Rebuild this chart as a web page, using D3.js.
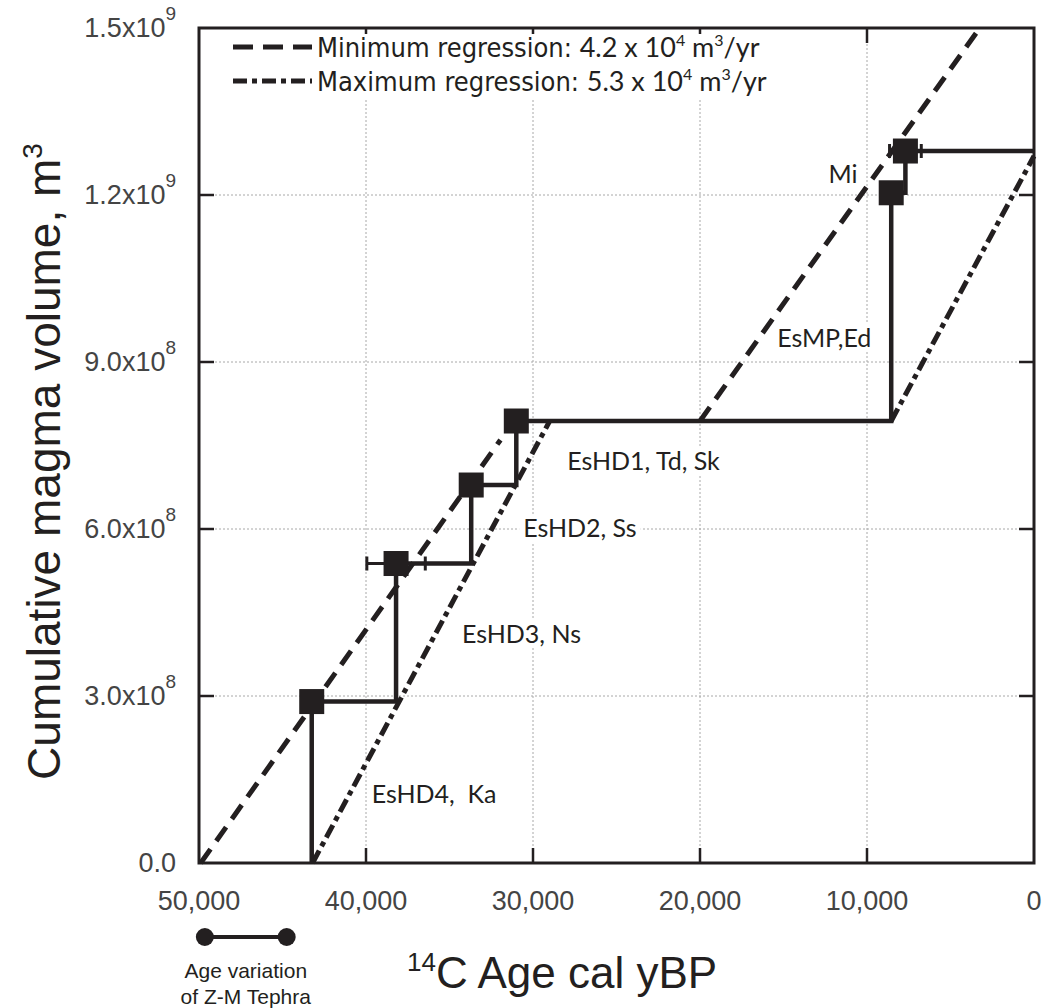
<!DOCTYPE html>
<html lang="en">
<head>
    <meta charset="utf-8">
    <title>Cumulative magma volume</title>
    <style>
        body {
            margin: 0;
            background: #fff;
        }
        svg {
            font-family: "Liberation Sans", Arial, sans-serif;
        }
        .tick-label {
            font-size: 27px;
            fill: #444;
        }
        .event-label {
            font-family: Lato, "Open Sans", sans-serif;
            font-size: 25px;
            fill: #231f20;
        }
        .legend-text {
            font-family: "Liberation Sans Narrow", "DejaVu Sans Condensed", sans-serif;
            font-size: 27px;
            fill: #231f20;
        }
    </style>
</head>
<body>

<svg width="1043" height="1008"></svg>

<script src="https://d3js.org/d3.v7.min.js"></script>
<script>

    // ---- data ----
    const eventNames = ["EsHD4,  Ka", "EsHD3, Ns", "EsHD2, Ss", "EsHD1, Td, Sk", "EsMP,Ed", "Mi"];
    const eventAges = [43250, 38200, 33700, 31000, 8550, 7700];        // cal yBP
    const eventVolumes = [2.9e8, 5.38e8, 6.79e8, 7.94e8, 1.204e9, 1.279e9]; // m3
    const eventAgeErr = [0, 1750, 0, 0, 0, 950];

    // regression lines, drawn as two parallel pieces each
    const minRegAges = [[49900, 31950], [20000, 3250]];
    const minRegVolumes = [[0, 7.6e8], [7.94e8, 1.5e9]];
    const maxRegAges = [[43200, 29000], [8550, 0]];
    const maxRegVolumes = [[0, 7.94e8], [7.94e8, 1.27e9]];

    const xTickValues = [50000, 40000, 30000, 20000, 10000, 0];
    const yTickValues = [0, 3e8, 6e8, 9e8, 1.2e9, 1.5e9];
    const yTickMantissa = ["0.0", "3.0x10", "6.0x10", "9.0x10", "1.2x10", "1.5x10"];
    const yTickExponent = ["", "8", "8", "8", "9", "9"];

    const zmAgeVariation = [49650, 44750];

    const legendLabels = ["Minimum regression: ", "Maximum regression: "];
    const legendRates = ["4.2 x 10", "5.3 x 10"];

    // ---- layout ----
    const margin = {top: 28, right: 9, bottom: 145, left: 199};
    const svg = d3.select("svg");
    const width = +svg.attr("width") - margin.left - margin.right;
    const height = +svg.attr("height") - margin.top - margin.bottom;
    const ink = "#231f20";

    const x = d3.scaleLinear().domain([50000, 0]).range([0, width]);
    const y = d3.scaleLinear().domain([0, 1.5e9]).range([height, 0]);

    const vis = svg.append("g")
        .attr("transform", `translate(${margin.left},${margin.top})`);

    // grid
    const grid = vis.append("g")
        .attr("stroke", "#a8a8a8")
        .attr("stroke-width", 1)
        .attr("stroke-dasharray", "2,2");
    grid.selectAll(".vgrid")
        .data(xTickValues.slice(1, -1))
        .enter().append("line")
        .attr("x1", d => x(d)).attr("x2", d => x(d))
        .attr("y1", 0).attr("y2", height);
    grid.selectAll(".hgrid")
        .data(yTickValues.slice(1, -1))
        .enter().append("line")
        .attr("x1", 0).attr("x2", width)
        .attr("y1", d => y(d)).attr("y2", d => y(d));

    // inner ticks on all four sides
    const tickLen = 15;
    const ticks = vis.append("g").attr("stroke", ink).attr("stroke-width", 2.5);
    xTickValues.slice(1, -1).forEach(d => {
        ticks.append("line").attr("x1", x(d)).attr("x2", x(d)).attr("y1", 0).attr("y2", tickLen);
        ticks.append("line").attr("x1", x(d)).attr("x2", x(d)).attr("y1", height).attr("y2", height - tickLen);
    });
    yTickValues.slice(1, -1).forEach(d => {
        ticks.append("line").attr("x1", 0).attr("x2", tickLen).attr("y1", y(d)).attr("y2", y(d));
        ticks.append("line").attr("x1", width).attr("x2", width - tickLen).attr("y1", y(d)).attr("y2", y(d));
    });

    // white boxes behind the labels (they break the grid)
    const labelBg = vis.append("g");

    // legend
    const legend = vis.append("g");
    const legendDash = ["20,10", "14,5,5,5"];
    legendLabels.forEach((lab, i) => {
        const ly = 19 + i * 34;
        legend.append("line")
            .attr("x1", 34).attr("x2", 113)
            .attr("y1", ly).attr("y2", ly)
            .attr("stroke", ink).attr("stroke-width", 5)
            .attr("stroke-dasharray", legendDash[i]);
        const t = legend.append("text")
            .attr("class", "legend-text")
            .attr("x", 118).attr("y", ly + 10);
        t.append("tspan").text(lab);
        t.append("tspan").attr("font-family", "Lato, 'Open Sans', sans-serif").text(legendRates[i]);
        t.append("tspan").attr("font-family", "Lato, 'Open Sans', sans-serif")
            .attr("font-size", 16).attr("dy", -11).text("4");
        t.append("tspan").attr("font-family", "Lato, 'Open Sans', sans-serif")
            .attr("dy", 11).text(" m");
        t.append("tspan").attr("font-family", "Lato, 'Open Sans', sans-serif")
            .attr("font-size", 16).attr("dy", -11).text("3");
        t.append("tspan").attr("font-family", "Lato, 'Open Sans', sans-serif")
            .attr("dy", 11).text("/yr");
    });

    // regression lines
    const line = d3.line().x(d => x(d[0])).y(d => y(d[1]));
    minRegAges.forEach((a, i) => {
        vis.append("path")
            .attr("d", line([[a[0], minRegVolumes[i][0]], [a[1], minRegVolumes[i][1]]]))
            .attr("fill", "none").attr("stroke", ink).attr("stroke-width", 5)
            .attr("stroke-dasharray", "17,10");
    });
    maxRegAges.forEach((a, i) => {
        vis.append("path")
            .attr("d", line([[a[0], maxRegVolumes[i][0]], [a[1], maxRegVolumes[i][1]]]))
            .attr("fill", "none").attr("stroke", ink).attr("stroke-width", 5)
            .attr("stroke-dasharray", "14,5,5,5");
    });

    // staircase of cumulative volume
    const steps = [[eventAges[0], 0]];
    eventAges.forEach((a, i) => {
        steps.push([a, eventVolumes[i]]);
        const next = i < eventAges.length - 1 ? eventAges[i + 1] : 0;
        steps.push([next, eventVolumes[i]]);
    });
    vis.append("path")
        .attr("d", line(steps))
        .attr("fill", "none").attr("stroke", ink).attr("stroke-width", 4.5);

    // age error bars
    const errG = vis.append("g").attr("stroke", ink).attr("stroke-width", 3);
    eventAges.forEach((a, i) => {
        if (!eventAgeErr[i]) return;
        const cy = y(eventVolumes[i]);
        const xl = x(a + eventAgeErr[i]), xr = x(a - eventAgeErr[i]);
        errG.append("line").attr("x1", xl).attr("x2", xr).attr("y1", cy).attr("y2", cy);
        [xl, xr].forEach(cx => errG.append("line")
            .attr("x1", cx).attr("x2", cx).attr("y1", cy - 7).attr("y2", cy + 7));
    });

    // squares
    const sq = 25;
    vis.selectAll(".event")
        .data(eventAges)
        .enter().append("rect")
        .attr("x", (d) => x(d) - sq / 2)
        .attr("y", (d, i) => y(eventVolumes[i]) - sq / 2)
        .attr("width", sq).attr("height", sq)
        .attr("fill", ink);

    // event labels, offset from their squares
    const labelOffset = [[60, 101, "start"], [66, 79, "start"], [52, 52, "start"], [51, 49, "start"], [-114, 154, "start"], [-48, 32, "end"]];
    eventNames.forEach((name, i) => {
        const t = vis.append("text")
            .attr("class", "event-label")
            .attr("x", x(eventAges[i]) + labelOffset[i][0])
            .attr("y", y(eventVolumes[i]) + labelOffset[i][1])
            .attr("text-anchor", labelOffset[i][2])
            .attr("xml:space", "preserve")
            .text(name);
        const b = t.node().getBBox();
        labelBg.append("rect")
            .attr("x", b.x - 4).attr("y", b.y + 2)
            .attr("width", b.width + 8).attr("height", b.height - 2)
            .attr("fill", "#fff");
    });
    const lb = legend.node().getBBox();
    labelBg.append("rect")
        .attr("x", lb.x - 4).attr("y", lb.y + 4)
        .attr("width", lb.width + 60).attr("height", lb.height - 2)
        .attr("fill", "#fff");

    // frame
    vis.append("rect")
        .attr("width", width).attr("height", height)
        .attr("fill", "none").attr("stroke", ink).attr("stroke-width", 3);

    // tick labels
    vis.selectAll(".xlab")
        .data(xTickValues)
        .enter().append("text")
        .attr("class", "tick-label")
        .attr("x", d => x(d))
        .attr("y", height + 47)
        .attr("text-anchor", "middle")
        .text(d => d3.format(",")(d));

    yTickValues.forEach((d, i) => {
        const t = vis.append("text")
            .attr("class", "tick-label")
            .attr("x", -23)
            .attr("y", y(d) + 9)
            .attr("text-anchor", "end");
        t.append("tspan").text(yTickMantissa[i]);
        if (yTickExponent[i]) {
            t.append("tspan").attr("font-size", 19).attr("dy", -17).text(yTickExponent[i]);
        }
    });

    // axis titles
    const yTitle = svg.append("text")
        .attr("transform", `translate(60,${margin.top + height / 2 + 16}) rotate(-90)`)
        .attr("text-anchor", "middle")
        .attr("font-size", 46)
        .attr("fill", ink);
    yTitle.append("tspan").text("Cumulative magma volume, m");
    yTitle.append("tspan").attr("font-size", 28).attr("dy", -18).text("3");

    const xTitle = svg.append("text")
        .attr("x", 407).attr("y", 988)
        .attr("font-size", 44)
        .attr("fill", ink);
    xTitle.append("tspan").attr("font-size", 26).attr("dy", -17).text("14");
    xTitle.append("tspan").attr("dy", 17).text("C Age cal yBP");

    // age variation of Z-M tephra
    const zm = vis.append("g").attr("transform", `translate(0,${height + 74})`);
    zm.append("line")
        .attr("x1", x(zmAgeVariation[0])).attr("x2", x(zmAgeVariation[1]))
        .attr("stroke", ink).attr("stroke-width", 4);
    zm.selectAll("circle")
        .data(zmAgeVariation)
        .enter().append("circle")
        .attr("cx", d => x(d)).attr("r", 9).attr("fill", ink);
    const zmMid = (x(zmAgeVariation[0]) + x(zmAgeVariation[1])) / 2;
    ["Age variation", "of Z-M Tephra"].forEach((s, i) => {
        zm.append("text")
            .attr("x", zmMid).attr("y", 41 + i * 26)
            .attr("text-anchor", "middle")
            .attr("font-size", 21)
            .attr("fill", ink)
            .text(s);
    });

</script>

</body>
</html>
